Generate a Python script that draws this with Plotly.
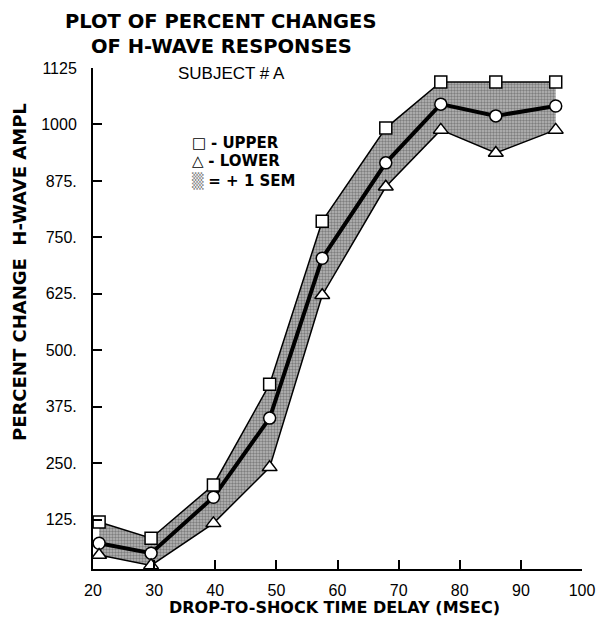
import plotly.graph_objects as go

# Data
delay_ms = [21.0, 29.5, 39.7, 48.9, 57.5, 67.9, 76.9, 85.9, 95.7]
upper = [120, 84, 202, 425, 786, 992, 1094, 1094, 1094]
mean = [73, 51, 175, 350, 704, 915, 1045, 1019, 1041]
lower = [47, 24, 117, 241, 622, 862, 988, 937, 988]

x_ticks = [20, 30, 40, 50, 60, 70, 80, 90, 100]
y_ticks = [125, 250, 375, 500, 625, 750, 875, 1000, 1125]
y_tick_text = ["125.", "250.", "375.", "500.", "625.", "750.", "875.", "1000", "1125"]

TICKFONT = "Liberation Sans, Arial, Helvetica, sans-serif"
BOLDFONT = "DejaVu Sans, Liberation Sans, Arial, sans-serif"

# plot area placed at page px x 93..582, y 68..569
PX_L, PX_R, PX_T, PX_B = 93, 582, 68, 569
PW, PH = PX_R - PX_L, PX_B - PX_T


def px(x, y):
    return (x - PX_L) / PW, 1 - (y - PX_T) / PH


fig = go.Figure()

# SEM band: lower edge then upper edge filled to it
fig.add_trace(go.Scatter(
    x=delay_ms, y=lower, mode="lines",
    line=dict(color="black", width=1.5), showlegend=False, hoverinfo="skip"))
fig.add_trace(go.Scatter(
    x=delay_ms, y=upper, mode="lines", fill="tonexty",
    fillcolor="#a0a0a0",
    fillpattern=dict(shape=".", fgcolor="#444444", bgcolor="#b8b8b8", size=3, solidity=0.5),
    line=dict(color="black", width=1.5), showlegend=False, hoverinfo="skip"))

# Mean line with circles
fig.add_trace(go.Scatter(
    x=delay_ms, y=mean, mode="lines+markers",
    line=dict(color="black", width=4),
    marker=dict(symbol="circle", size=12, color="white", line=dict(color="black", width=1.5)),
    showlegend=False))

# Upper squares
fig.add_trace(go.Scatter(
    x=delay_ms, y=upper, mode="markers",
    marker=dict(symbol="square", size=12, color="white", line=dict(color="black", width=1.5)),
    showlegend=False))

# Lower triangles
fig.add_trace(go.Scatter(
    x=delay_ms, y=lower, mode="markers",
    marker=dict(symbol="triangle-up", size=13, color="white", line=dict(color="black", width=1.5)),
    showlegend=False))


def ann(text, x, y, size, family=BOLDFONT, xanchor="center", textangle=0):
    ax, ay = px(x, y)
    return dict(text=text, xref="paper", yref="paper", x=ax, y=ay,
                xanchor=xanchor, yanchor="middle", showarrow=False,
                textangle=textangle, font=dict(size=size, family=family, color="black"))


fig.update_layout(
    width=597, height=618, autosize=False,
    paper_bgcolor="white", plot_bgcolor="white",
    margin=dict(l=PX_L, r=597 - PX_R, t=PX_T, b=618 - PX_B),
    font=dict(family=TICKFONT, color="black"),
    showlegend=False,
    xaxis=dict(
        range=[20, 100], tickvals=x_ticks, ticktext=[str(v) for v in x_ticks],
        ticks="inside", ticklen=9, tickwidth=1.5, tickcolor="black",
        showline=True, linecolor="black", linewidth=2,
        showgrid=False, zeroline=False, automargin=False,
        tickfont=dict(size=16, family=TICKFONT), ticklabelstandoff=6,
    ),
    yaxis=dict(
        range=[16, 1125], tickvals=y_ticks, ticktext=y_tick_text,
        ticks="inside", ticklen=9, tickwidth=1.5, tickcolor="black",
        showline=True, linecolor="black", linewidth=2,
        showgrid=False, zeroline=False, automargin=False,
        tickfont=dict(size=16, family=TICKFONT), ticklabelstandoff=11,
    ),
    annotations=[
        ann("<b>PLOT OF PERCENT CHANGES</b>", 220.5, 21.5, 19.5),
        ann("<b>OF H-WAVE RESPONSES</b>", 221, 46.5, 19.5),
        ann("SUBJECT # A", 231, 73, 17, family=TICKFONT),
        ann("□ <b>- UPPER</b>", 190, 143, 15, xanchor="left"),
        ann("△ <b>- LOWER</b>", 190, 161, 15, xanchor="left"),
        ann("<span style='color:#8a8a8a'>▒</span> <b>= + 1 SEM</b>", 190, 181, 15, xanchor="left"),
        ann("<b>DROP-TO-SHOCK TIME DELAY (MSEC)</b>", 334, 607, 16),
        ann("<b>PERCENT CHANGE\u00a0\u00a0H-WAVE AMPL</b>", 19, 272, 18, textangle=-90),
    ],
)

fig.write_html(
    "out.html",
    config={"displayModeBar": False},
    post_script="document.body.style.margin='0';document.body.style.overflow='hidden';"
                "document.documentElement.style.overflow='hidden';",
)
